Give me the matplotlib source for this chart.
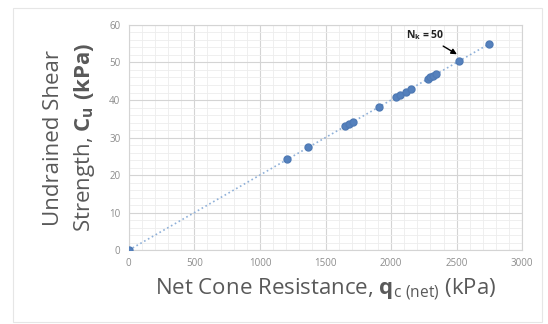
import matplotlib.pyplot as plt
from matplotlib.patches import Rectangle
from matplotlib.ticker import MultipleLocator

plt.rcParams['font.family'] = ['Open Sans', 'DejaVu Sans']
plt.rcParams['mathtext.fontset'] = 'custom'
plt.rcParams['mathtext.rm'] = 'Open Sans'
plt.rcParams['mathtext.bf'] = 'Open Sans:bold'
plt.rcParams['mathtext.it'] = 'Open Sans:italic'

# net cone resistance (kPa) and undrained shear strength (kPa)
qc_net = [0, 1210, 1370, 1650, 1680, 1710, 1910, 2040, 2070, 2110, 2150,
          2280, 2300, 2320, 2340, 2520, 2750]
cu = [0, 24.2, 27.4, 33.0, 33.6, 34.2, 38.2, 40.8, 41.4, 42.2, 43.0,
      45.6, 46.0, 46.4, 46.8, 50.4, 55.0]

x_ticks = [0, 500, 1000, 1500, 2000, 2500, 3000]
y_ticks = [0, 10, 20, 30, 40, 50, 60]

fig = plt.figure(figsize=(5.48, 3.24), dpi=100)
ax = fig.add_axes([0.235, 0.228, 0.718, 0.695])

# chart area frame
fig.patches.append(Rectangle((0.024, 0.005), 0.965, 0.97, transform=fig.transFigure,
                             fill=False, edgecolor='#e6e6e6', lw=0.8))

ax.plot(qc_net, cu, linestyle=':', color='#8fb0d8', lw=1.2, zorder=2)
ax.plot(qc_net, cu, linestyle='none', marker='o', markersize=5,
        color='#5581bd', markeredgecolor='#4f7ab5', zorder=3)

ax.set_xlim(0, 3000)
ax.set_ylim(0, 60)
ax.set_xticks(x_ticks)
ax.set_yticks(y_ticks)
ax.xaxis.set_minor_locator(MultipleLocator(100))
ax.yaxis.set_minor_locator(MultipleLocator(2))
ax.grid(which='major', color='#d4d4d4', lw=0.8)
ax.grid(which='minor', color='#ededed', lw=0.6)
ax.set_axisbelow(True)
ax.tick_params(which='both', length=0, labelsize=7, labelcolor='#8c8c8c', pad=6)
for s in ax.spines.values():
    s.set_color('#d4d4d4')
    s.set_linewidth(0.8)

ax.set_xlabel(r'Net Cone Resistance, $\mathbf{q}_{\mathrm{c\ (net)}}$ (kPa)',
              fontsize=16, color='#595959', labelpad=5)
ax.set_ylabel('Undrained Shear\n' + r'Strength, $\mathbf{C_u\ (kPa)}$',
              fontsize=16, color='#595959', labelpad=9, linespacing=1.45)

ax.annotate(r'$\mathbf{N_k}$ = 50', xy=(2520, 51.8), xytext=(2110, 56.5),
            fontsize=7.5, fontweight='bold', color='#222222',
            arrowprops=dict(arrowstyle='-|>', color='black', lw=1.0,
                            mutation_scale=8))

fig.savefig('out.png', dpi=100)
